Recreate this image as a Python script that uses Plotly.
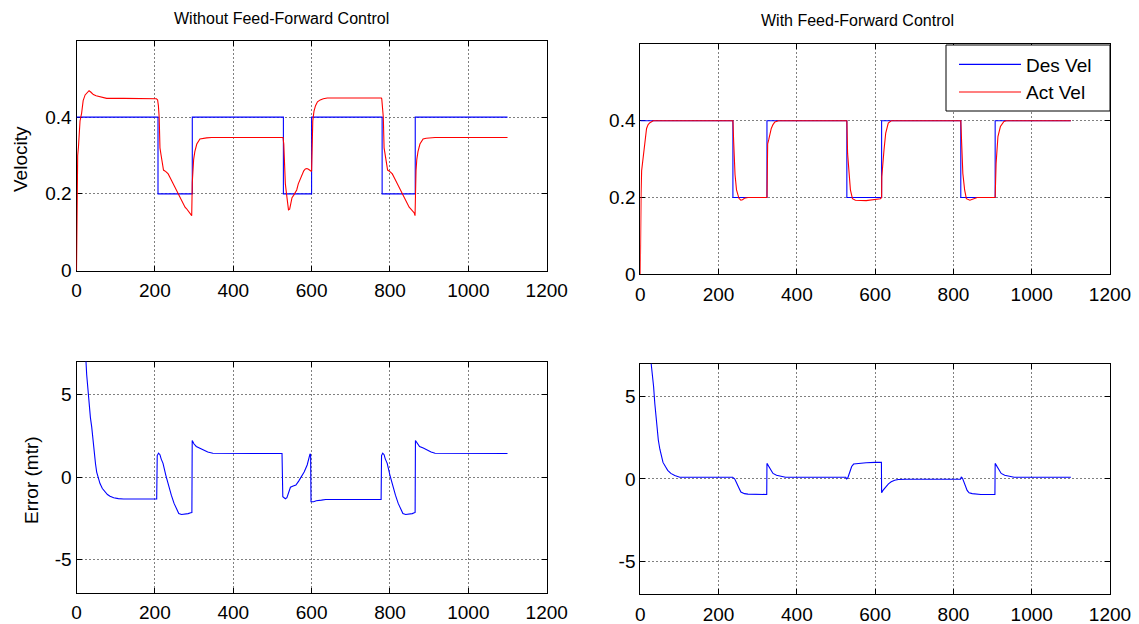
import plotly.graph_objects as go

W, H = 1139, 624

# ---------------- data ----------------
# Without feed-forward: desired and actual velocity
nf_des_t = [0, 208, 295.5, 528, 600, 780, 864.5, 1100]
nf_des_v = [0.4, 0.2, 0.4, 0.2, 0.4, 0.2, 0.4, 0.4]

nf_act_t = [0, 0.5, 1.5, 3, 5, 7, 9, 13, 17, 22, 27, 32, 37, 43, 50, 60, 77, 120, 204,
            207, 209, 211, 213, 216, 219, 222, 228, 234, 240, 247, 253, 260, 266, 272,
            277, 281, 286, 290, 294, 295.5, 297, 299, 302, 307, 315, 323, 332, 345, 527,
            529, 531, 533, 536, 539, 541, 544, 547, 550, 554, 558, 562, 566, 571, 575,
            580, 584, 588, 592, 596, 599, 600, 601.5, 603, 606, 610, 615, 622, 630, 640,
            700, 778, 779, 781, 783, 785, 788, 791, 794, 800, 806, 812, 819, 825, 832,
            838, 844, 849, 853, 858, 862, 864, 865, 866.5, 868.5, 871.5, 876.5, 884.5,
            892.5, 901.5, 915, 1100]
nf_act_v = [0, 0.12, 0.24, 0.3, 0.322, 0.35, 0.39, 0.41, 0.443, 0.458, 0.465, 0.469, 0.465,
            0.459, 0.456, 0.454, 0.449, 0.449, 0.448,
            0.445, 0.43, 0.4, 0.32, 0.3, 0.28, 0.262, 0.258, 0.252, 0.24, 0.226, 0.212,
            0.196, 0.185, 0.172, 0.165, 0.161, 0.155, 0.15, 0.143, 0.23, 0.26, 0.29, 0.31,
            0.33, 0.343, 0.345, 0.346, 0.347, 0.347,
            0.33, 0.26, 0.226, 0.2, 0.17, 0.158, 0.16, 0.175, 0.19, 0.196, 0.204, 0.21,
            0.226, 0.238, 0.252, 0.26, 0.265, 0.266, 0.264, 0.26, 0.259, 0.26, 0.35, 0.39,
            0.415, 0.43, 0.44, 0.445, 0.448, 0.45, 0.45, 0.45, 0.448, 0.43, 0.4, 0.32,
            0.3, 0.28, 0.262, 0.258, 0.252, 0.24, 0.226, 0.212, 0.196, 0.185, 0.172,
            0.165, 0.161, 0.155, 0.15, 0.143, 0.23, 0.26, 0.29, 0.31, 0.33, 0.343, 0.345,
            0.346, 0.347, 0.347]

# With feed-forward: desired and actual velocity
ff_des_t = [0, 236.6, 323.6, 527.7, 616.5, 818.8, 906.6, 1100]
ff_des_v = [0.4, 0.2, 0.4, 0.2, 0.4, 0.2, 0.4, 0.4]

ff_act_t = [0, 0.5, 2, 3.4, 6, 7.7, 10, 12, 14, 16, 20, 24.5, 33, 236.6, 238.4, 240, 242,
            245.8, 249, 252, 256.8, 261, 266, 275, 323.6, 324, 325.4, 328, 330, 332,
            334.6, 339, 343.8, 353, 527.7, 529.6, 531, 533, 536.8, 542, 549.5, 577, 600,
            613.5, 616.5, 617, 622.6, 627, 633.5, 641, 818.8, 820.6, 824, 828.6, 833,
            842, 851.6, 860.7, 906.6, 909, 913.7, 920, 929, 935, 1100]
ff_act_v = [0, 0.21, 0.21, 0.27, 0.29, 0.31, 0.33, 0.35, 0.36, 0.38, 0.39, 0.395, 0.4,
            0.4, 0.35, 0.27, 0.26, 0.22, 0.205, 0.198, 0.193, 0.194, 0.198, 0.2, 0.2,
            0.245, 0.34, 0.35, 0.36, 0.37, 0.38, 0.39, 0.397, 0.4, 0.4, 0.315, 0.3,
            0.263, 0.22, 0.197, 0.193, 0.192, 0.194, 0.197, 0.2, 0.254, 0.324, 0.368,
            0.394, 0.4, 0.4, 0.333, 0.263, 0.22, 0.197, 0.193, 0.197, 0.2, 0.2, 0.289,
            0.359, 0.385, 0.398, 0.4, 0.4]

# Position error without feed-forward
nf_err_t = [22, 24.2, 26, 28.5, 30.5, 32.8, 35.5, 38.8, 42, 45.5, 48.5, 51.5, 55, 60, 66,
            72.7, 79, 85.5, 95, 106.7, 120, 204.7, 206, 209.4, 213, 216, 220.8, 228, 235,
            242, 249, 255, 261, 268, 277, 285, 291.5, 294.5, 295.3, 300, 305.7, 315,
            324.5, 335, 348, 524.5, 526.5, 530, 533, 537, 541, 546, 553, 560, 567, 574.5,
            581, 588.7, 593, 596, 597.5, 598.5, 605, 612, 625, 636, 777.4, 778.5, 781.5,
            785, 788, 793, 800, 807, 814, 821, 827, 833, 840, 849, 857, 862, 864.2, 865,
            870, 875.5, 885, 894, 905, 915, 1100]
nf_err_v = [7.4, 7.0, 6.2, 5.47, 4.9, 4.25, 3.6, 3.04, 2.2, 1.42, 0.8, 0.3, -0.05, -0.4,
            -0.7, -0.91, -1.06, -1.17, -1.26, -1.31, -1.33, -1.33, 1.3, 1.44, 1.35, 1.1,
            0.83, 0.1, -0.59, -1.1, -1.6, -1.95, -2.21, -2.27, -2.25, -2.22, -2.17, -2.15,
            2.21, 2.0, 1.85, 1.75, 1.64, 1.52, 1.44, 1.42, -1.2, -1.3, -1.32, -1.25,
            -0.95, -0.62, -0.55, -0.49, -0.25, 0.02, 0.3, 0.73, 1.05, 1.4, 1.35, -1.5,
            -1.5, -1.44, -1.4, -1.36, -1.36, 1.3, 1.44, 1.35, 1.1, 0.83, 0.1, -0.59, -1.1,
            -1.6, -1.95, -2.21, -2.27, -2.25, -2.22, -2.17, -2.15, 2.21, 2.0, 1.85, 1.75,
            1.64, 1.52, 1.44, 1.42]

# Position error with feed-forward
ff_err_t = [26, 28, 31, 34, 37, 40, 43, 46, 50, 53.5, 58, 64.5, 70, 78, 88, 101, 236, 238,
            241, 244, 247.6, 252, 257, 266, 275, 300, 323, 323.6, 330, 339, 348, 357, 371,
            525, 527, 530, 533, 536, 540, 545, 559, 577, 600, 616, 616.5, 620, 627.5, 634,
            641, 650, 659, 680, 818, 820, 823, 826, 830, 835, 840, 848, 870, 906, 906.6,
            913, 922, 931, 940, 955, 1100]
ff_err_v = [7.4, 7.0, 6.3, 5.6, 4.6, 3.7, 3.0, 2.36, 1.8, 1.34, 1.0, 0.73, 0.52, 0.33, 0.2,
            0.1, 0.1, 0.05, 0.0, -0.15, -0.29, -0.55, -0.8, -0.9, -0.93, -0.95, -0.95,
            0.94, 0.7, 0.33, 0.22, 0.16, 0.1, 0.1, 0.0, 0.05, 0.3, 0.53, 0.75, 0.9, 0.94,
            0.98, 1.0, 1.0, -0.85, -0.7, -0.49, -0.3, -0.18, -0.08, -0.04, -0.02, -0.02,
            0.1, 0.05, -0.15, -0.4, -0.7, -0.85, -0.9, -0.95, -0.95, 0.94, 0.7, 0.33,
            0.22, 0.16, 0.1, 0.1]

x_ticks = [0, 200, 400, 600, 800, 1000, 1200]
vel_ticks = [0, 0.2, 0.4]
vel_tick_text = ["0", "0.2", "0.4"]
err_ticks = [-5, 0, 5]
err_tick_text = ["-5", "0", "5"]

# ---------------- layout helpers ----------------
BLUE = "#0000FF"
RED = "#FF0000"
FONT = "Arial, Liberation Sans, Helvetica, sans-serif"
TICK_SIZE = 19


def xdom(left, right):
    return [left / W, right / W]


def ydom(top, bottom):
    return [1 - bottom / H, 1 - top / H]


axis_common = dict(
    showline=True, linecolor="black", linewidth=1, mirror="ticks",
    ticks="inside", ticklen=5, tickcolor="black", tickwidth=1,
    showgrid=True, gridcolor="#808080", griddash="2px,2px", gridwidth=1,
    zeroline=False, automargin=False, layer="below traces",
    tickfont=dict(family=FONT, size=TICK_SIZE, color="black"),
)

fig = go.Figure()

line = dict(width=1.1)
fig.add_trace(go.Scatter(x=nf_des_t, y=nf_des_v, mode="lines", line=dict(color=BLUE, shape="hv", **line),
                         showlegend=False, xaxis="x", yaxis="y"))
fig.add_trace(go.Scatter(x=nf_act_t, y=nf_act_v, mode="lines", line=dict(color=RED, **line),
                         showlegend=False, xaxis="x", yaxis="y"))
fig.add_trace(go.Scatter(x=ff_des_t, y=ff_des_v, mode="lines", name="Des Vel",
                         line=dict(color=BLUE, shape="hv", **line), xaxis="x2", yaxis="y2"))
fig.add_trace(go.Scatter(x=ff_act_t, y=ff_act_v, mode="lines", name="Act Vel",
                         line=dict(color=RED, **line), xaxis="x2", yaxis="y2"))
fig.add_trace(go.Scatter(x=nf_err_t, y=nf_err_v, mode="lines", line=dict(color=BLUE, **line),
                         showlegend=False, xaxis="x3", yaxis="y3"))
fig.add_trace(go.Scatter(x=ff_err_t, y=ff_err_v, mode="lines", line=dict(color=BLUE, **line),
                         showlegend=False, xaxis="x4", yaxis="y4"))

xa = dict(axis_common, range=[0, 1200], tickvals=x_ticks, ticklabelstandoff=3)


def label(text, x, y, size, angle=0):
    return dict(text=text, x=x / W, y=1 - y / H, xref="paper", yref="paper",
                xanchor="center", yanchor="middle", showarrow=False, textangle=angle,
                font=dict(family=FONT, size=size, color="black"))


# legend frame (white box with black border) behind the legend entries
legend_box = dict(type="rect", xref="paper", yref="paper",
                  x0=946 / W, x1=1110 / W, y0=1 - 111 / H, y1=1 - 45 / H,
                  fillcolor="white", line=dict(color="black", width=1), layer="above")

fig.update_layout(
    template="none",
    width=W, height=H, margin=dict(l=0, r=0, t=0, b=0, autoexpand=False),
    paper_bgcolor="white", plot_bgcolor="white",
    font=dict(family=FONT, color="black"),
    xaxis=dict(xa, domain=xdom(76.5, 546.7), anchor="y"),
    yaxis=dict(axis_common, domain=ydom(40.5, 270.5), range=[0, 0.6], tickvals=vel_ticks,
               ticktext=vel_tick_text, anchor="x"),
    xaxis2=dict(xa, domain=xdom(640.3, 1110), anchor="y2"),
    yaxis2=dict(axis_common, domain=ydom(44, 274.3), range=[0, 0.6], tickvals=vel_ticks,
                ticktext=vel_tick_text, anchor="x2"),
    xaxis3=dict(xa, domain=xdom(76.5, 546.7), anchor="y3"),
    yaxis3=dict(axis_common, domain=ydom(361.5, 592.5), range=[-7, 7], tickvals=err_ticks,
                ticktext=err_tick_text, anchor="x3"),
    xaxis4=dict(xa, domain=xdom(640.3, 1110), anchor="y4"),
    yaxis4=dict(axis_common, domain=ydom(363.7, 594), range=[-7, 7], tickvals=err_ticks,
                ticktext=err_tick_text, anchor="x4"),
    legend=dict(x=954 / W, xanchor="left", y=1 - 45.5 / H, yanchor="top",
                bgcolor="rgba(0,0,0,0)", borderwidth=0,
                font=dict(family=FONT, size=TICK_SIZE, color="black"),
                itemwidth=62, tracegroupgap=0),
    shapes=[legend_box],
    annotations=[
        label("Without Feed-Forward Control", 281, 18, 16),
        label("With Feed-Forward Control", 857, 20, 16),
        label("Velocity", 20, 159, TICK_SIZE, -90),
        label("Error (mtr)", 31, 480, TICK_SIZE, -90),
    ],
)

fig.write_html("out.html")
